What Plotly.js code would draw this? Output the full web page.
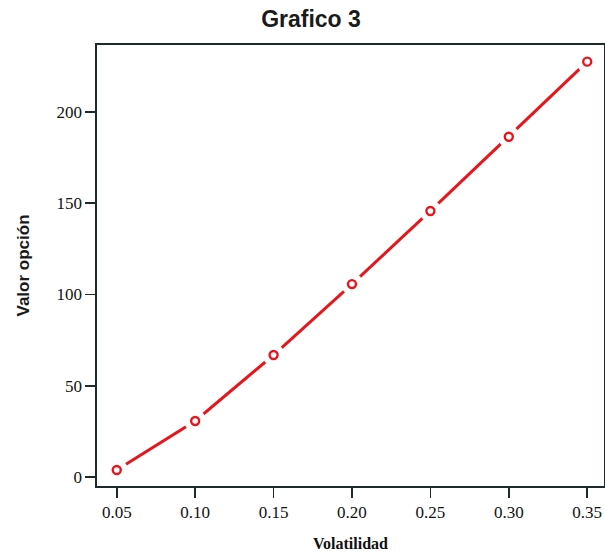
<!DOCTYPE html>
<html>
<head>
<meta charset="utf-8">
<script src="https://cdn.plot.ly/plotly-3.0.1.min.js"></script>
<style>html,body{margin:0;padding:0;background:#fff;}</style>
</head>
<body>
<div id="chart" style="width:605px;height:554px;"></div>
<script>
var volatilidad = [0.05, 0.10, 0.15, 0.20, 0.25, 0.30, 0.35];
var valorOpcion = [4.0, 30.8, 66.9, 105.7, 145.7, 186.3, 227.4];
var xTicks = [0.05, 0.10, 0.15, 0.20, 0.25, 0.30, 0.35];
var xTickLabels = ["0.05", "0.10", "0.15", "0.20", "0.25", "0.30", "0.35"];
var yTicks = [0, 50, 100, 150, 200];

var red = '#e8161c';
var axisColor = '#1e2b2b';
var serif = 'Liberation Serif, Times New Roman, serif';
var sans = 'Liberation Sans, Arial, sans-serif';

var traces = [
  {x: volatilidad, y: valorOpcion, mode: 'lines+markers', line: {color: red, width: 3},
   marker: {symbol: 'circle', size: 22, color: '#ffffff'}, hoverinfo: 'skip'},
  {x: volatilidad, y: valorOpcion, mode: 'markers', marker: {symbol: 'circle-open', size: 8, color: red, line: {width: 2.4, color: red}}}
];

var layout = {
  width: 605, height: 554,
  margin: {l: 97, r: 1, t: 45, b: 68},
  showlegend: false,
  paper_bgcolor: '#fff', plot_bgcolor: '#fff',
  title: {text: 'Grafico 3', font: {family: sans, size: 23, color: '#1a1a1a', weight: 'bold'}, x: 311/605, xref: 'container', xanchor: 'center', y: 1 - 19/554, yref: 'container', yanchor: 'middle'},
  xaxis: {
    range: [0.0374, 0.3607], tickvals: xTicks, ticktext: xTickLabels,
    showgrid: false, zeroline: false, showline: true, mirror: true, linecolor: axisColor, linewidth: 1.6,
    ticks: 'outside', ticklen: 10, tickwidth: 1.6, tickcolor: axisColor,
    tickfont: {family: serif, size: 17, color: '#111'},
    title: {text: 'Volatilidad', font: {family: serif, size: 16, color: '#111', weight: 'bold'}, standoff: 17}
  },
  yaxis: {
    range: [-4.76, 236.5], tickvals: yTicks,
    showgrid: false, zeroline: false, showline: true, mirror: true, linecolor: axisColor, linewidth: 1.6,
    ticks: 'outside', ticklen: 10, tickwidth: 1.6, tickcolor: axisColor,
    tickfont: {family: serif, size: 17, color: '#111'},
    title: {text: 'Valor opción', font: {family: sans, size: 17, color: '#1a1a1a', weight: 'bold'}, standoff: 22}
  }
};

Plotly.newPlot('chart', traces, layout, {displayModeBar: false, staticPlot: true});
</script>
</body>
</html>
